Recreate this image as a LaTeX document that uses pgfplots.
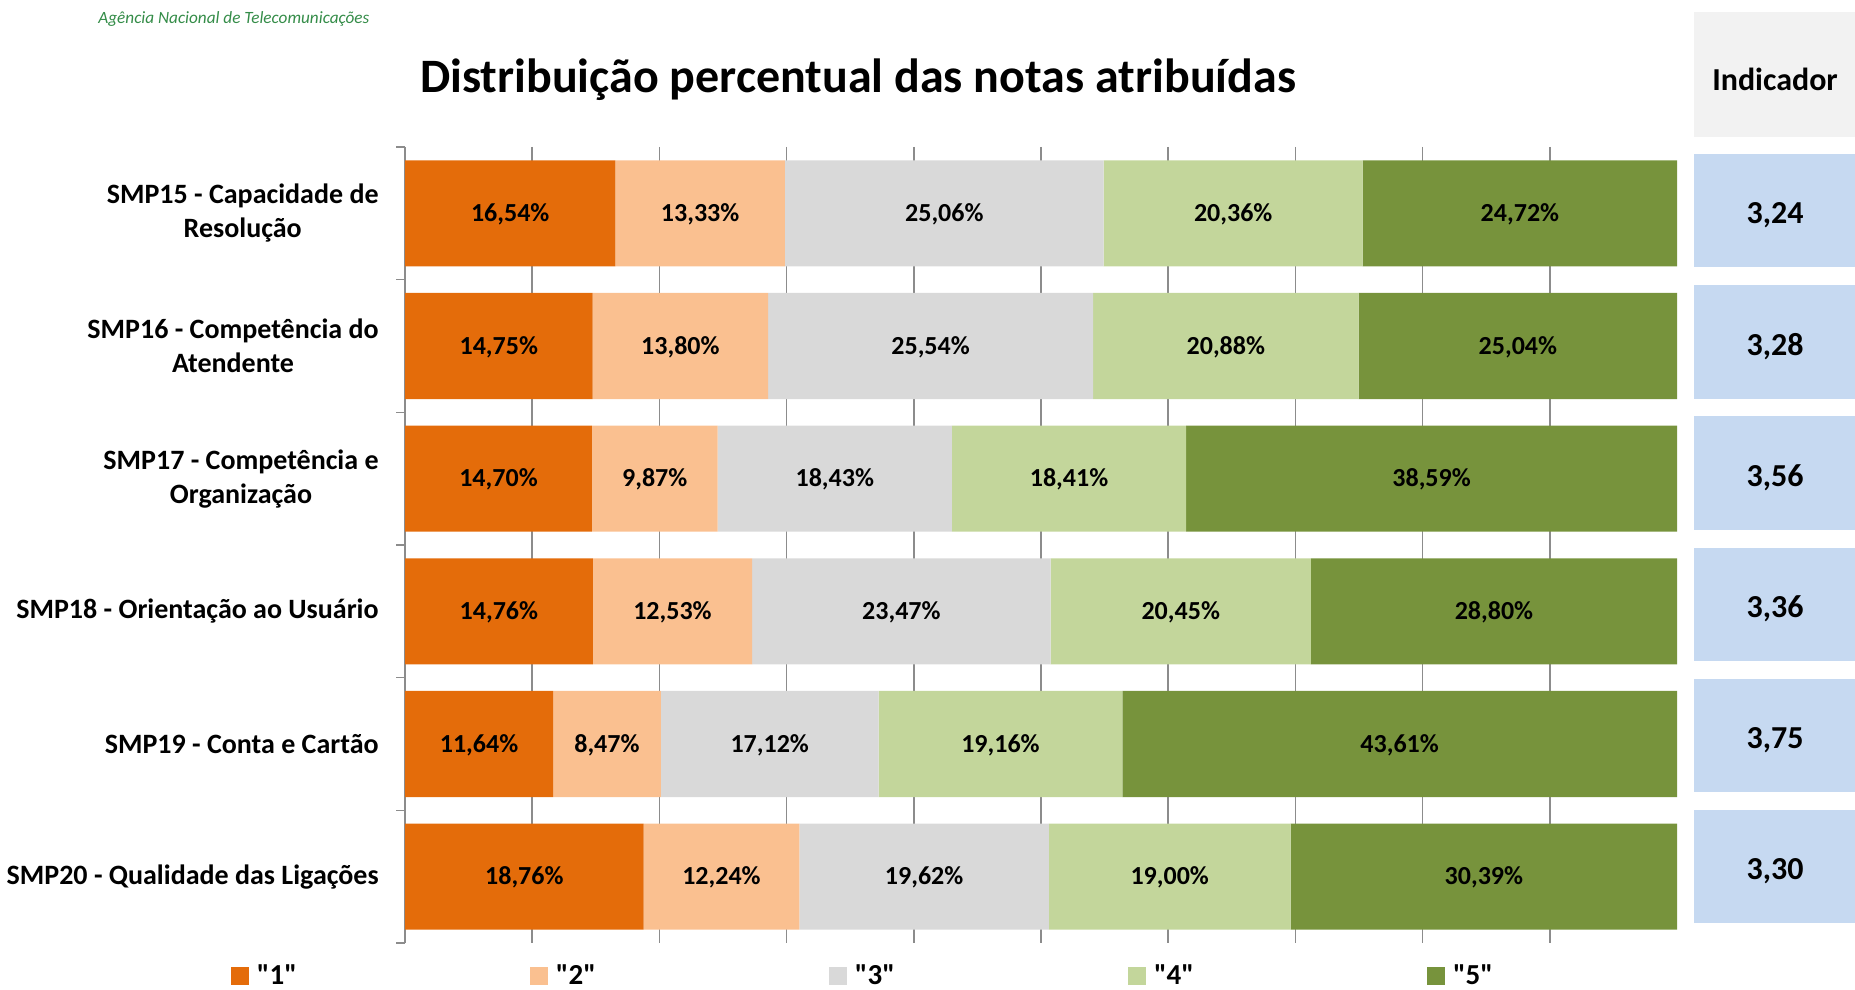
\documentclass[border=0pt]{standalone}
\usepackage{pgfplots}
\pgfplotsset{compat=1.18}
\usepackage{fontspec}
\setmainfont{Carlito}
\newfontfamily\legfont{Carlito}
\definecolor{c1}{HTML}{E46C0A}
\definecolor{c2}{HTML}{FAC090}
\definecolor{c3}{HTML}{D9D9D9}
\definecolor{c4}{HTML}{C3D69B}
\definecolor{c5}{HTML}{77933C}
\definecolor{gridc}{HTML}{8C8C8C}
\definecolor{boxblue}{HTML}{C6D9F1}
\definecolor{boxgray}{HTML}{F2F2F2}
\definecolor{anatel}{RGB}{52,140,72}
\begin{document}
\begin{tikzpicture}[x=0.5pt,y=0.5pt]
\useasboundingbox (0,0) rectangle (1855,989);
\begin{axis}[
  at={(202.5pt,23pt)}, anchor=south west,
  scale only axis, width=636pt, height=398pt,
  xbar stacked, bar width=0.8,
  xmin=0, xmax=100, ymin=0.5, ymax=6.5, y dir=reverse,
  axis lines*=left,
  x axis line style={draw=none},
  y axis line style={draw=gridc, line width=0.8pt},
  xtick={10,20,...,90}, xticklabels={}, xtick style={draw=none},
  xmajorgrids, major grid style={draw=gridc, line width=0.8pt},
  ytick={0.5,1.5,...,6.5}, yticklabels={},
  ytick style={draw=gridc, line width=0.8pt},
  tick align=outside, major tick length=4.5pt,
  extra y ticks={1,2,3,4,5,6},
  extra y tick labels={{SMP15 - Capacidade de\\Resolução},{SMP16 - Competência do\\Atendente},{SMP17 - Competência e\\Organização},{SMP18 - Orientação ao Usuário},{SMP19 - Conta e Cartão},{SMP20 - Qualidade das Ligações}},
  extra y tick style={major tick length=0pt, yticklabel style={align=center, font=\fontsize{14}{17}\selectfont\bfseries, inner sep=0pt, xshift=-13pt}},
  legend columns=5,
  legend style={at={(-0.1368,-0.0415)}, anchor=west, draw=none, fill=none, inner sep=0pt, outer sep=0pt,
     nodes={inner sep=0pt, anchor=west, font=\fontsize{14.5}{16}\legfont\bfseries, text width=24pt, align=left},
     /tikz/every odd column/.append style={column sep=4pt},
     /tikz/every even column/.append style={column sep=112.5pt}},
  legend image code/.code={\fill[#1] (0pt,-4.5pt) rectangle (9pt,4.5pt);},
]
\addplot[fill=c1, draw=none] coordinates {(16.54,1) (14.75,2) (14.70,3) (14.76,4) (11.64,5) (18.76,6)};
\addlegendentry{"1"}
\addplot[fill=c2, draw=none] coordinates {(13.33,1) (13.80,2) (9.87,3) (12.53,4) (8.47,5) (12.24,6)};
\addlegendentry{"2"}
\addplot[fill=c3, draw=none] coordinates {(25.06,1) (25.54,2) (18.43,3) (23.47,4) (17.12,5) (19.62,6)};
\addlegendentry{"3"}
\addplot[fill=c4, draw=none] coordinates {(20.36,1) (20.88,2) (18.41,3) (20.45,4) (19.16,5) (19.00,6)};
\addlegendentry{"4"}
\addplot[fill=c5, draw=none] coordinates {(24.72,1) (25.04,2) (38.59,3) (28.80,4) (43.61,5) (30.39,6)};
\addlegendentry{"5"}
\end{axis}
\begin{axis}[
  at={(202.5pt,23pt)}, anchor=south west,
  scale only axis, width=636pt, height=398pt,
  xmin=0, xmax=100, ymin=0.5, ymax=6.5, y dir=reverse,
  hide axis, clip=false]
\addplot[draw=none, mark=none, nodes near coords, point meta=explicit symbolic,
  nodes near coords style={anchor=center, inner sep=0pt, yshift=-0.5pt, font=\fontsize{13}{15}\selectfont\bfseries}]
  table[meta=lab] {
x y lab
8.27 1 16,54\%
23.205 1 13,33\%
42.40 1 25,06\%
65.11 1 20,36\%
87.65 1 24,72\%
7.375 2 14,75\%
21.65 2 13,80\%
41.32 2 25,54\%
64.53 2 20,88\%
87.49 2 25,04\%
7.35 3 14,70\%
19.635 3 9,87\%
33.785 3 18,43\%
52.205 3 18,41\%
80.705 3 38,59\%
7.38 4 14,76\%
21.025 4 12,53\%
39.025 4 23,47\%
60.985 4 20,45\%
85.61 4 28,80\%
5.82 5 11,64\%
15.875 5 8,47\%
28.67 5 17,12\%
46.81 5 19,16\%
78.195 5 43,61\%
9.38 6 18,76\%
24.88 6 12,24\%
40.81 6 19,62\%
60.12 6 19,00\%
84.815 6 30,39\%
};
\end{axis}
\node[font=\fontsize{24}{28}\selectfont\bfseries] at (858,909) {Distribuição percentual das notas atribuídas};
\node[anchor=west, font=\fontsize{8.6}{10}\selectfont\itshape, text=anatel, inner sep=0pt] at (98,970) {Agência Nacional de Telecomunicações};
\fill[boxgray] (1694,852) rectangle (1855,977);
\node[font=\fontsize{16}{19}\selectfont\bfseries] at (1775,910) {Indicador};
\foreach \i/\v in {0/{3,24},1/{3,28},2/{3,56},3/{3,36},4/{3,75},5/{3,30}} {
  \fill[boxblue] (1694,835-131.2*\i) rectangle (1855,721.5-131.2*\i);
  \node[font=\fontsize{16}{19}\selectfont\bfseries] at (1775,773.5-131.2*\i) {\v};
}
\end{tikzpicture}
\end{document}
